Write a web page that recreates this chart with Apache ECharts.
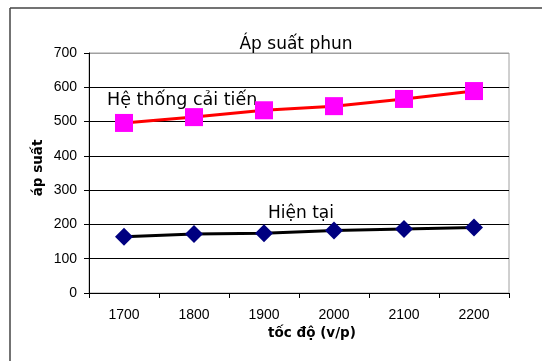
<!DOCTYPE html>
<html>
<head>
<meta charset="UTF-8">
<title>Áp suất phun</title>
<script src="https://cdn.jsdelivr.net/npm/echarts@6/dist/echarts.min.js"></script>
<style>
  html, body { margin: 0; padding: 0; background: #fff; }
  #main { width: 542px; height: 361px; }
</style>
</head>
<body>
<div id="main"></div>
<script>
// du lieu doc tu hinh
var tocDo = ['1700', '1800', '1900', '2000', '2100', '2200'];
var heThongCaiTien = [496, 513, 533, 545, 566, 589];
var hienTai = [164, 172, 174, 182, 187, 191];
var yTicks = [0, 100, 200, 300, 400, 500, 600, 700];

var chart = echarts.init(document.getElementById('main'));

var gridColors = yTicks.map(function (v, i) {
  return i === yTicks.length - 1 ? '#a0a0a0' : '#000';
});

var option = {
  animation: false,
  backgroundColor: '#fff',
  title: {
    text: 'Áp suất phun',
    left: 291,
    top: 31,
    textAlign: 'center',
    textStyle: { fontFamily: 'DejaVu Sans', fontSize: 17, fontWeight: 'normal', color: '#000' }
  },
  grid: {
    left: 89, top: 53, right: 33, bottom: 68,
    show: true, borderColor: '#a0a0a0', borderWidth: 1
  },
  xAxis: {
    type: 'category',
    data: tocDo,
    boundaryGap: true,
    axisLine: { lineStyle: { color: '#000', width: 1 } },
    axisTick: { show: true, length: 5, lineStyle: { color: '#000' } },
    axisLabel: { margin: 15, color: '#000', fontFamily: 'Liberation Sans', fontSize: 14 },
    splitLine: { show: false }
  },
  yAxis: {
    type: 'value',
    min: 0, max: 700, interval: 100,
    axisLine: { show: true, lineStyle: { color: '#000', width: 1 } },
    axisTick: { show: true, length: 5, lineStyle: { color: '#000' } },
    axisLabel: { margin: 12, color: '#000', fontFamily: 'Liberation Sans', fontSize: 14 },
    splitLine: { show: true, lineStyle: { color: gridColors, width: 1 } }
  },
  series: [
    {
      name: 'Hệ thống cải tiến',
      type: 'line',
      data: heThongCaiTien,
      symbol: 'rect',
      symbolSize: 18,
      lineStyle: { color: '#ff0000', width: 3 },
      itemStyle: { color: '#ff00ff' },
      z: 3
    },
    {
      name: 'Hiện tại',
      type: 'line',
      data: hienTai,
      symbol: 'diamond',
      symbolSize: 18,
      lineStyle: { color: '#000', width: 3 },
      itemStyle: { color: '#000080' },
      z: 3
    }
  ],
  graphic: [
    { type: 'line', shape: { x1: 10, y1: 8, x2: 542, y2: 8 }, style: { stroke: '#444', lineWidth: 1.5 } },
    { type: 'line', shape: { x1: 10, y1: 8, x2: 10, y2: 361 }, style: { stroke: '#444', lineWidth: 1.5 } },
    {
      type: 'text', left: 107, top: 91,
      style: { text: 'Hệ thống cải tiến', fill: '#000', font: '17.5px "DejaVu Sans"' }
    },
    {
      type: 'text', left: 268, top: 205,
      style: { text: 'Hiện tại', fill: '#000', font: '17px "DejaVu Sans"' }
    },
    {
      type: 'text', x: 312, y: 333,
      style: { text: 'tốc độ (v/p)', fill: '#000', font: 'bold 13.5px "DejaVu Sans"', align: 'center', verticalAlign: 'middle' }
    },
    {
      type: 'text', x: 38, y: 168, rotation: Math.PI / 2,
      style: { text: 'áp suất', fill: '#000', font: 'bold 13.5px "DejaVu Sans"', align: 'center', verticalAlign: 'middle' }
    }
  ]
};

chart.setOption(option);
</script>
</body>
</html>
